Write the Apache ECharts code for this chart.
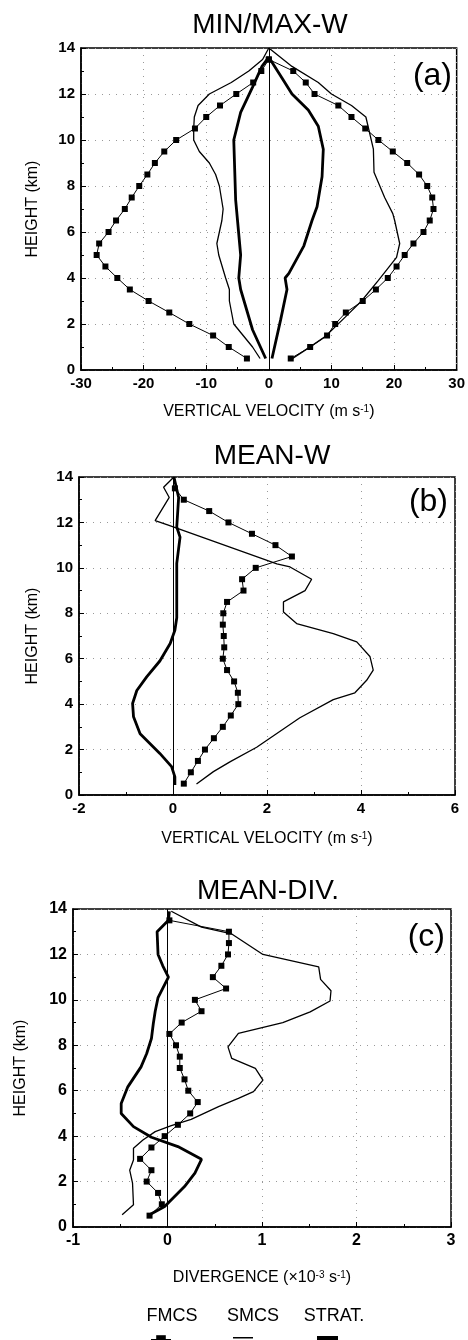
<!DOCTYPE html>
<html>
<head>
<meta charset="UTF-8">
<title>MIN/MAX-W, MEAN-W, MEAN-DIV.</title>
<style>
  html, body { margin: 0; padding: 0; background: #fff; }
  #chart { width: 468px; height: 1340px; }
</style>
<script src="https://cdn.jsdelivr.net/npm/echarts@6/dist/echarts.min.js"></script>
</head>
<body>
<div id="chart"></div>
<script>
  // FMCS points sit every 0.5 km
  const fmcsHeights = [0.5, 1, 1.5, 2, 2.5, 3, 3.5, 4, 4.5, 5, 5.5, 6, 6.5, 7, 7.5, 8, 8.5, 9, 9.5, 10, 10.5, 11, 11.5, 12, 12.5, 13, 13.5];

  // (a) MIN/MAX-W  (m/s)
  const aFmcsMin = [-3.5, -6.4, -8.9, -12.7, -15.9, -19.2, -22.2, -24.2, -26.1, -27.5, -27.1, -25.6, -24.4, -23.0, -21.9, -20.7, -19.4, -18.2, -16.7, -14.8, -11.8, -10.0, -7.8, -5.2, -2.5, -1.2, 0.0];
  const aFmcsMax = [3.5, 6.6, 9.3, 10.6, 12.3, 15.0, 17.1, 19.0, 20.4, 21.7, 23.1, 24.7, 25.7, 26.3, 26.1, 25.3, 24.0, 22.1, 19.8, 17.5, 15.4, 13.2, 11.1, 7.3, 5.9, 3.9, 0.0];
  const aSmcsMinH = [0.5, 1, 2, 3, 3.5, 4, 5, 5.5, 6, 6.5, 7, 7.5, 8, 8.5, 9, 9.5, 10, 10.5, 11, 11.5, 12, 12.5, 13, 13.5, 14];
  const aSmcsMinX = [-1.4, -2.6, -5.6, -6.3, -6.3, -6.9, -8.0, -8.3, -7.9, -7.5, -7.3, -7.6, -7.9, -8.5, -9.5, -11.1, -12.0, -12.0, -11.9, -11.3, -9.5, -6.0, -3.2, -1.0, 0];
  const aSmcsMaxH = [14, 13.2, 12.5, 12, 11.5, 11, 9.6, 8.6, 7.5, 6.8, 6.5, 5.5, 4.9, 3.9, 3.0, 2.3, 1.45, 0.95, 0.5];
  const aSmcsMaxX = [0, 3.7, 7.9, 10.0, 13.2, 15.5, 16.7, 16.8, 18.5, 19.8, 20.1, 20.9, 20.4, 17.5, 14.8, 12.2, 9.0, 6.3, 3.8];
  const aStratMinH = [0.5, 1.75, 3.5, 4, 5, 6.5, 7.4, 10, 11.2, 12.3, 13.2, 13.6];
  const aStratMinX = [-0.5, -2.6, -4.5, -4.8, -4.5, -5.0, -5.3, -5.6, -4.5, -2.6, -1.1, 0];
  const aStratMaxH = [13.6, 12.7, 12, 11.3, 10.6, 9.6, 8.4, 7.1, 6.5, 5.4, 4.2, 4, 3.5, 2.2, 0.5];
  const aStratMaxX = [0, 2.1, 3.7, 6.3, 7.9, 8.7, 8.5, 7.7, 6.9, 5.6, 3.2, 2.6, 2.9, 1.9, 0.5];

  // (b) MEAN-W  (m/s)
  const bFmcs = [0.23, 0.38, 0.53, 0.68, 0.87, 1.06, 1.23, 1.39, 1.38, 1.30, 1.15, 1.06, 1.09, 1.08, 1.06, 1.07, 1.15, 1.50, 1.47, 1.76, 2.53, 2.18, 1.68, 1.18, 0.77, 0.23, 0.04];
  const bSmcsH = [0.48, 1.03, 1.47, 2.1, 3.4, 4.2, 4.5, 5.05, 5.5, 6.1, 6.74, 7.1, 7.55, 8.06, 8.5, 9, 9.5, 10.04, 10.18, 11.88, 12.08, 13.1, 13.55, 14];
  const bSmcsX = [0.50, 0.86, 1.22, 1.78, 2.70, 3.41, 3.87, 4.12, 4.26, 4.19, 3.91, 3.41, 2.63, 2.35, 2.35, 2.81, 2.95, 2.49, 2.21, -0.10, -0.38, -0.08, -0.20, 0.02];
  const bStratH = [0.44, 0.8, 1.25, 1.83, 2.7, 3.44, 4.03, 4.6, 5.2, 5.9, 6.67, 7.25, 7.8, 10.2, 11.35, 11.8, 13.1, 14];
  const bStratX = [0.04, 0.04, -0.03, -0.28, -0.70, -0.84, -0.86, -0.77, -0.56, -0.28, -0.06, 0.04, 0.08, 0.08, 0.15, 0.08, 0.12, 0.02];

  // (c) MEAN-DIV.  (x10^-3 s^-1)
  const cFmcs = [-0.19, -0.06, -0.10, -0.22, -0.17, -0.29, -0.17, -0.03, 0.11, 0.24, 0.32, 0.22, 0.18, 0.13, 0.13, 0.09, 0.02, 0.15, 0.36, 0.29, 0.62, 0.48, 0.57, 0.64, 0.65, 0.65, 0.02];
  const cSmcsH = [0.54, 0.98, 1.93, 2.5, 2.95, 3.47, 3.83, 4.2, 4.46, 4.74, 5.3, 5.66, 5.96, 6.47, 6.98, 7.42, 7.93, 8.52, 9.0, 9.47, 9.95, 10.4, 10.9, 11.45, 12.0, 12.9, 13.2, 13.9];
  const cSmcsX = [-0.48, -0.36, -0.37, -0.40, -0.36, -0.36, -0.26, -0.13, 0.04, 0.25, 0.54, 0.75, 0.91, 1.01, 0.93, 0.68, 0.64, 0.75, 1.22, 1.51, 1.72, 1.73, 1.62, 1.60, 1.01, 0.68, 0.36, 0.04];
  const cStratH = [0.54, 0.9, 1.78, 2.37, 2.98, 3.54, 3.95, 4.42, 5.0, 5.44, 6.17, 7.05, 7.64, 8.3, 8.96, 9.5, 10.1, 11.0, 11.5, 12.0, 13.0, 13.5, 13.9];
  const cStratX = [-0.19, -0.03, 0.18, 0.29, 0.36, 0.11, -0.17, -0.36, -0.49, -0.49, -0.42, -0.28, -0.22, -0.17, -0.15, -0.13, -0.10, 0.01, -0.05, -0.10, -0.11, 0.01, 0.02];

  const FONT = "'Liberation Sans', Arial, sans-serif";
  const zip = (xs, hs) => xs.map((x, i) => [x, hs[i]]);

  const grids = [
    { left: 81, top: 48, width: 378, height: 322 },
    { left: 79, top: 477, width: 376, height: 318 },
    { left: 73, top: 909, width: 378, height: 318 }
  ];

  function axisCommon(labelSize) {
    return {
      axisLine: { show: true, onZero: false, lineStyle: { color: '#000', width: 1.5 } },
      axisTick: { inside: true, length: 5, lineStyle: { color: '#000' } },
      minorTick: { show: true, splitNumber: 2, length: 3, lineStyle: { color: '#000' } },
      axisLabel: { color: '#000', fontSize: labelSize, fontWeight: 'bold', fontFamily: FONT, margin: 6 },
      splitLine: { show: true, lineStyle: { color: '#999', type: [1, 6] } }
    };
  }

  function xAxis(gridIndex, min, max, interval, name, nameGap, labelSize) {
    return Object.assign({
      gridIndex, type: 'value', min, max, interval,
      name, nameLocation: 'middle', nameGap,
      nameTextStyle: {
        color: '#000', fontSize: 16, fontFamily: FONT,
        rich: { sup: { fontSize: 10, fontFamily: FONT, color: '#000', verticalAlign: 'top' } }
      }
    }, axisCommon(labelSize));
  }

  function yAxis(gridIndex, nameGap, labelSize) {
    return Object.assign({
      gridIndex, type: 'value', min: 0, max: 14, interval: 2,
      name: 'HEIGHT (km)', nameLocation: 'middle', nameGap,
      nameTextStyle: { color: '#000', fontSize: 16, fontFamily: FONT }
    }, axisCommon(labelSize));
  }

  const zeroLine = {
    silent: true, symbol: 'none', label: { show: false },
    lineStyle: { color: '#000', width: 1, type: 'solid' },
    data: [{ xAxis: 0 }]
  };

  function fmcs(i, data) {
    return {
      name: 'FMCS', type: 'line', xAxisIndex: i, yAxisIndex: i, data,
      symbol: 'rect', symbolSize: 6, itemStyle: { color: '#000' },
      lineStyle: { color: '#000', width: 1 }, z: 3
    };
  }
  function smcs(i, data, withZero) {
    const s = {
      name: 'SMCS', type: 'line', xAxisIndex: i, yAxisIndex: i, data,
      symbol: 'none', itemStyle: { color: '#000' },
      lineStyle: { color: '#000', width: 1.3 }
    };
    if (withZero) s.markLine = zeroLine;
    return s;
  }
  function strat(i, data) {
    return {
      name: 'STRAT.', type: 'line', xAxisIndex: i, yAxisIndex: i, data,
      symbol: 'none', itemStyle: { color: '#000' },
      lineStyle: { color: '#000', width: 2.8 }
    };
  }

  function legendText(x, text) {
    return { type: 'text', x, y: 1316, style: { text, font: '18px ' + FONT, fill: '#000', align: 'center', verticalAlign: 'middle' } };
  }

  const chart = echarts.init(document.getElementById('chart'));
  chart.setOption({
    animation: false,
    backgroundColor: '#fff',
    grid: grids.map(g => Object.assign({ show: true, borderColor: '#000', borderWidth: 1.5, backgroundColor: 'transparent' }, g)),
    xAxis: [
      xAxis(0, -30, 30, 10, 'VERTICAL VELOCITY (m s{sup|-1})', 34, 15),
      xAxis(1, -2, 6, 2, 'VERTICAL VELOCITY (m s{sup|-1})', 36, 15),
      xAxis(2, -1, 3, 1, 'DIVERGENCE (\u00d710{sup|-3} s{sup|-1})', 43, 16)
    ],
    yAxis: [yAxis(0, 40, 15), yAxis(1, 38, 15), yAxis(2, 44, 16)],
    legend: [
      { data: ['FMCS'], left: 150, top: 1334, padding: 0, itemWidth: 20, itemHeight: 12, formatter: () => '', selectedMode: false },
      { data: [{ name: 'SMCS', icon: 'rect' }], left: 233, top: 1337, padding: 0, itemWidth: 20, itemHeight: 1.5, formatter: () => '', selectedMode: false },
      { data: [{ name: 'STRAT.', icon: 'rect' }], left: 317, top: 1336, padding: 0, itemWidth: 21, itemHeight: 4, formatter: () => '', selectedMode: false }
    ],
    graphic: [
      { type: 'text', x: 270, y: 25, style: { text: 'MIN/MAX-W', font: '28px ' + FONT, fill: '#000', align: 'center', verticalAlign: 'middle' } },
      { type: 'text', x: 452, y: 76, style: { text: '(a)', font: '32px ' + FONT, fill: '#000', align: 'right', verticalAlign: 'middle' } },
      { type: 'text', x: 272, y: 456, style: { text: 'MEAN-W', font: '28px ' + FONT, fill: '#000', align: 'center', verticalAlign: 'middle' } },
      { type: 'text', x: 448, y: 502, style: { text: '(b)', font: '32px ' + FONT, fill: '#000', align: 'right', verticalAlign: 'middle' } },
      { type: 'text', x: 268, y: 891, style: { text: 'MEAN-DIV.', font: '28px ' + FONT, fill: '#000', align: 'center', verticalAlign: 'middle' } },
      { type: 'text', x: 445, y: 937, style: { text: '(c)', font: '32px ' + FONT, fill: '#000', align: 'right', verticalAlign: 'middle' } },
      legendText(172, 'FMCS'),
      legendText(253, 'SMCS'),
      legendText(334, 'STRAT.')
    ],
    series: [
      // (a)
      fmcs(0, zip(aFmcsMin, fmcsHeights)),
      fmcs(0, zip(aFmcsMax, fmcsHeights)),
      smcs(0, zip(aSmcsMinX, aSmcsMinH), true),
      smcs(0, zip(aSmcsMaxX, aSmcsMaxH), false),
      strat(0, zip(aStratMinX, aStratMinH)),
      strat(0, zip(aStratMaxX, aStratMaxH)),
      // (b)
      fmcs(1, zip(bFmcs, fmcsHeights)),
      smcs(1, zip(bSmcsX, bSmcsH), true),
      strat(1, zip(bStratX, bStratH)),
      // (c)
      fmcs(2, zip(cFmcs, fmcsHeights)),
      smcs(2, zip(cSmcsX, cSmcsH), true),
      strat(2, zip(cStratX, cStratH))
    ]
  });
</script>
</body>
</html>
